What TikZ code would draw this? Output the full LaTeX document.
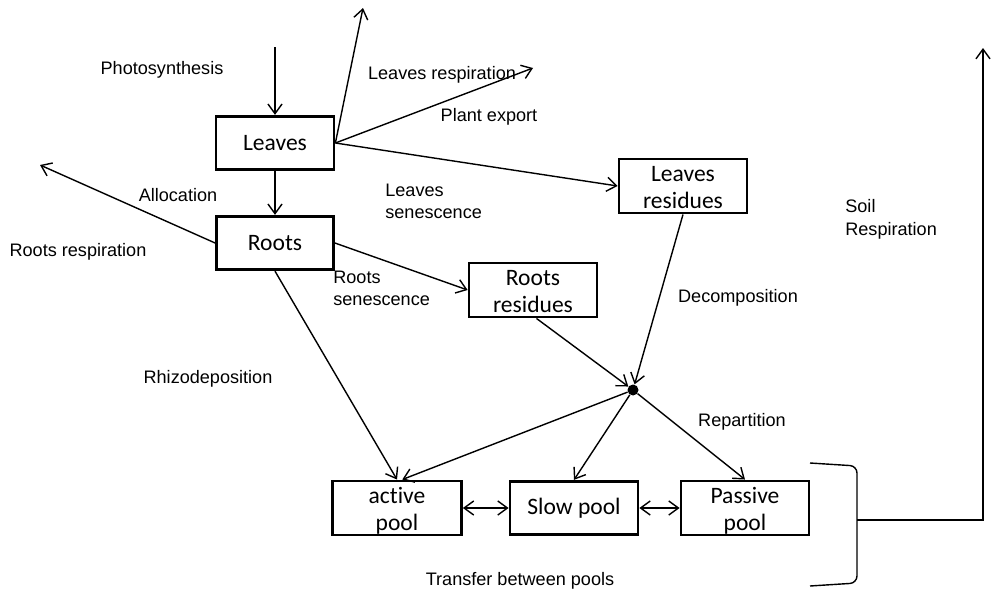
\documentclass[tikz,border=0pt]{standalone}
\usepackage{fontspec}
\setmainfont{Liberation Sans}
\newfontfamily\boxfont[Ligatures={NoCommon}]{Carlito}
\usetikzlibrary{positioning,arrows.meta}
\tikzset{flow/.style={line width=0.8pt,-{Straight Barb[length=5.5pt,width=8pt]}}}
\tikzset{flowboth/.style={line width=0.8pt,{Straight Barb[length=5.5pt,width=8pt]}-{Straight Barb[length=5.5pt,width=8pt]}}}
\tikzset{compartment/.style={draw,line width=1.6pt,inner sep=0pt,align=center,minimum height=1.07cm,font=\boxfont\fontsize{13.4}{15.4}\selectfont}}
\tikzset{lbl/.style={inner sep=0pt,align=left,font=\fontsize{10.3}{12.5}\selectfont}}
% two lines of box text, set a little low as in the original
\newcommand{\twolines}[2]{\raisebox{-2pt}[\height][\depth]{\begin{tabular}{@{}c@{}}#1\\#2\end{tabular}}}

\begin{document}
\begin{tikzpicture}[x=0.02cm,y=-0.02cm]
            \useasboundingbox (0,0) rectangle (995,595);

            % compartments
            \node[compartment,minimum width=2.36cm] (leaves) at (275,143) {Leaves};
            \node[compartment,minimum width=2.34cm] (roots)  at (275,243) {Roots};
            \node[compartment,minimum width=2.56cm] (lres)   at (683,186) {\twolines{Leaves}{residues}};
            \node[compartment,minimum width=2.56cm] (rres)   at (533,290) {\twolines{Roots}{residues}};
            \node[compartment,minimum width=2.58cm] (active) at (397,508) {\twolines{active}{pool}};
            \node[compartment,minimum width=2.56cm] (slow)   at (574,508) {Slow pool};
            \node[compartment,minimum width=2.56cm] (passive) at (745,508) {\twolines{Passive}{pool}};
            \node[circle,fill,inner sep=0pt,minimum size=0.22cm] (hub) at (633,390) {};

            % free ends
            \coordinate (photo)   at (275,47);
            \coordinate (lresp)   at (363,8);
            \coordinate (export)  at (533,68);
            \coordinate (rresp)   at (40,165);
            \coordinate (brk)     at (857,520);
            \coordinate (soiltop) at (983,48);

            % labels
            \node[lbl] (tphoto)  at (162,70)  {Photosynthesis};
            \node[lbl] (tlresp)  at (442,75)  {Leaves respiration};
            \node[lbl] (texport) at (489,117) {Plant export};
            \node[lbl,anchor=west] (tlsen) at (385,201) {Leaves\\senescence};
            \node[lbl] (talloc)  at (178,195) {Allocation};
            \node[lbl] (trresp)  at (78,252)  {Roots respiration};
            \node[lbl,anchor=west] (trsen) at (333,288) {Roots\\senescence};
            \node[lbl] (trhizo)  at (208,379) {Rhizodeposition};
            \node[lbl] (tdecomp) at (738,298) {Decomposition};
            \node[lbl] (trepart) at (742,422) {Repartition};
            \node[lbl,anchor=west,font=\fontsize{10.3}{13.2}\selectfont] (tsoil) at (845,219) {Soil\\Respiration};
            \node[lbl] (ttrans)  at (520,581) {Transfer between pools};

            % fluxes
            \draw[flow] (photo) -- (leaves.north);
            \draw[flow] (leaves.east) -- (lresp);
            \draw[flow] (leaves.east) -- (export);
            \draw[flow] (leaves.east) -- (lres.west);
            \draw[flow] (leaves.south) -- (roots.north);
            \draw[flow] (roots.west) -- (rresp);
            \draw[flow] (roots.east) -- (rres.west);
            \draw[flow] (roots.south) -- (active.north);
            \draw[flow] ([xshift=2pt]rres.south) -- (hub);
            \draw[flow] (lres.south) -- (hub);
            \draw[flow] (hub) -- ([xshift=3pt]active.north);
            \draw[flow] (hub) -- (slow.north);
            \draw[flow] (hub) -- (passive.north);
            \draw[flowboth] (active.east) -- (slow.west);
            \draw[flowboth] (slow.east) -- (passive.west);

            % bracket round the pools
            \draw[line width=0.8pt,rounded corners=4pt] (810,463) -- (857,466) -- (857,583) -- (810,586);
            \draw[flow] (brk) -| (soiltop);
        \end{tikzpicture}
\end{document}
